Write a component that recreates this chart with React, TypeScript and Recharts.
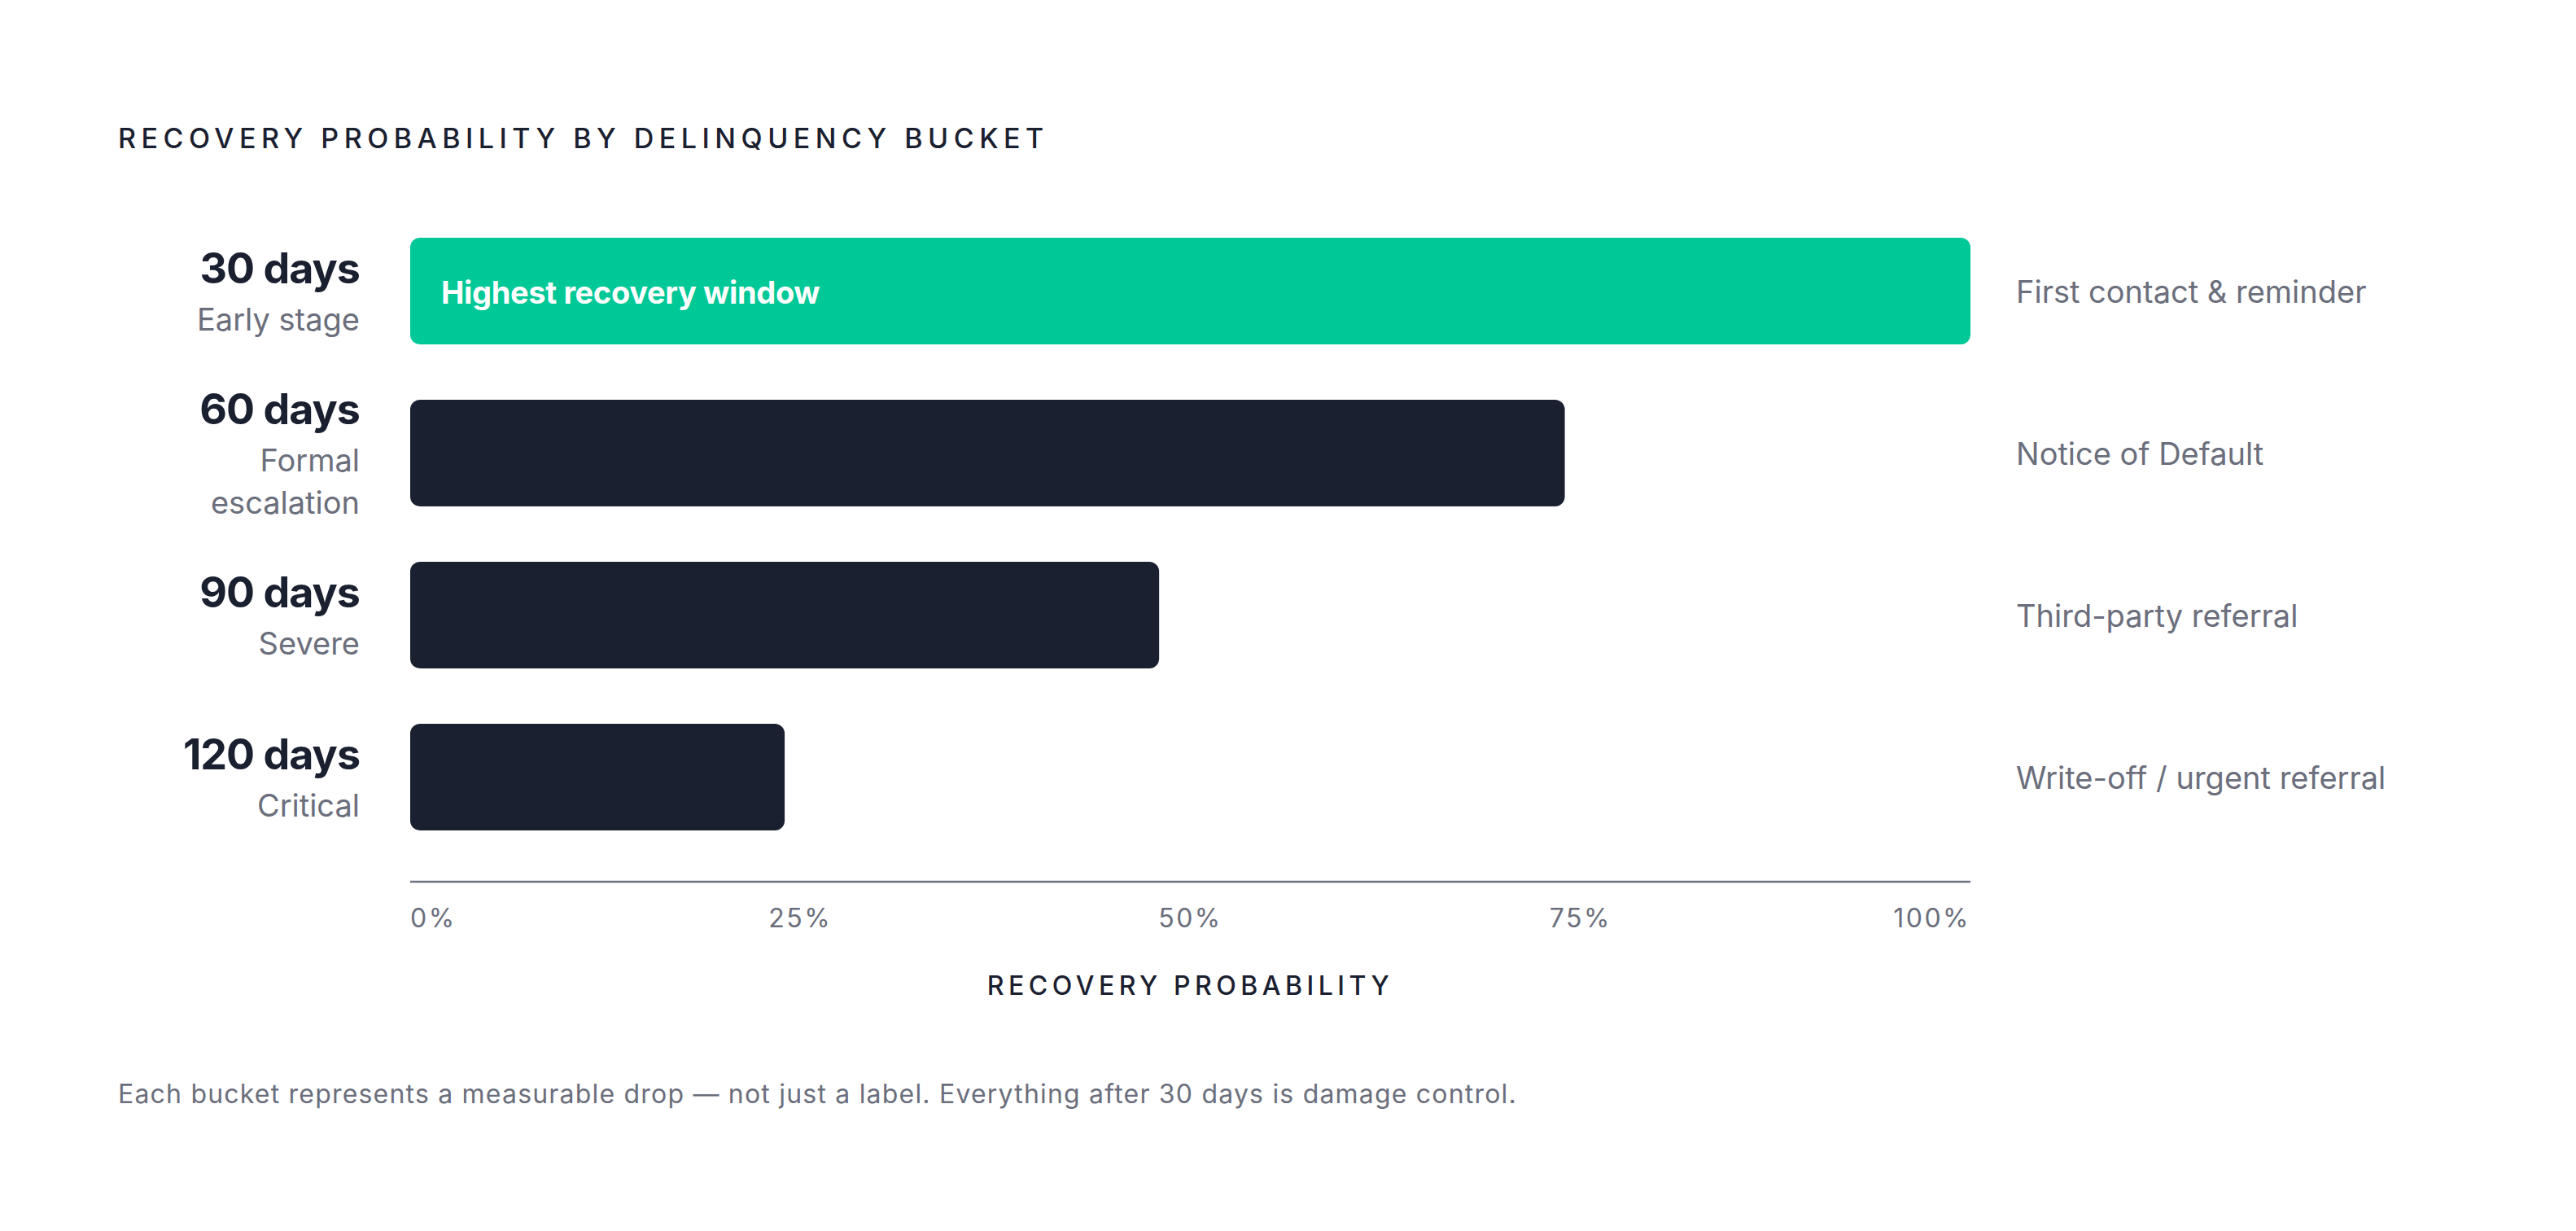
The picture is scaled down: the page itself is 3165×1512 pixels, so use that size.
import { BarChart, Bar, XAxis, YAxis, Cell, LabelList, Label } from "recharts";

const buckets = ["30 days", "60 days", "90 days", "120 days"];
const stages = [["Early stage"], ["Formal", "escalation"], ["Severe"], ["Critical"]];
const recovery = [100, 74, 48, 24];
const actions = [
  "First contact & reminder",
  "Notice of Default",
  "Third-party referral",
  "Write-off / urgent referral",
];
const barNotes = ["Highest recovery window", "", "", ""];
const xTicks = [0, 25, 50, 75, 100];
const highlighted = "30 days";

const data = buckets.map((bucket, i) => ({
  bucket,
  stage: stages[i],
  recovery: recovery[i],
  action: actions[i],
  note: barNotes[i],
}));

const DARK = "#1b2030";
const GREY = "#6b6e7c";
const GREEN = "#00c896";
const FONT = "Inter, 'Noto Sans', sans-serif";

function BucketTick(props: any) {
  const { x, y, payload } = props;
  const row = data.find((d) => d.bucket === payload.value);
  const lines = row ? row.stage : [];
  const top = y - 10 - (lines.length - 1) * 26;
  return (
    <g>
      <text
        x={x - 62}
        y={top}
        textAnchor="end"
        fill={DARK}
        fontSize={52}
        fontWeight={700}
        letterSpacing={-1}
        fontFamily={FONT}
      >
        {payload.value}
      </text>
      {lines.map((line, i) => (
        <text key={line} x={x - 62} y={top + 58 + i * 52} textAnchor="end" fill={GREY} fontSize={38} fontFamily={FONT}>
          {line}
        </text>
      ))}
    </g>
  );
}

function ActionTick(props: any) {
  const { x, y, payload } = props;
  return (
    <text x={x + 56} y={y + 14} textAnchor="start" fill={GREY} fontSize={38} fontFamily={FONT}>
      {payload.value}
    </text>
  );
}

function PercentTick(props: any) {
  const { x, y, payload } = props;
  const v = payload.value;
  const anchor = v === xTicks[0] ? "start" : v === xTicks[xTicks.length - 1] ? "end" : "middle";
  return (
    <text x={x} y={y + 56} textAnchor={anchor} fill={GREY} fontSize={32} letterSpacing={2.5} fontFamily={FONT}>
      {v}%
    </text>
  );
}

function AxisTitle(props: any) {
  const vb = props.viewBox;
  return (
    <text
      x={vb.x + vb.width / 2}
      y={vb.y + 139}
      textAnchor="middle"
      fill={DARK}
      fontSize={32}
      fontWeight={500}
      letterSpacing={5.5}
      fontFamily={FONT}
    >
      RECOVERY PROBABILITY
    </text>
  );
}

function NoteLabel(props: any) {
  const { x, y, height, value } = props;
  if (!value) return null;
  return (
    <text
      x={x + 38}
      y={y + height / 2 + 15}
      fill="#ffffff"
      fontSize={38}
      fontWeight={700}
      letterSpacing={-0.35}
      fontFamily={FONT}
    >
      {value}
    </text>
  );
}

export default function App() {
  return (
    <div style={{ position: "relative", width: 3149, height: 1496, background: "#ffffff", fontFamily: FONT }}>
      <div
        style={{
          position: "absolute",
          left: 137,
          top: 145,
          fontSize: 34,
          lineHeight: "34px",
          fontWeight: 500,
          letterSpacing: 6.5,
          color: DARK,
          whiteSpace: "nowrap",
        }}
      >
        RECOVERY PROBABILITY BY DELINQUENCY BUCKET
      </div>
      <div style={{ position: "absolute", left: 0, top: 0 }}>
        <BarChart
          width={3149}
          height={1260}
          data={data}
          layout="vertical"
          margin={{ top: 250, right: 0, bottom: 0, left: 0 }}
        >
          <XAxis
            type="number"
            domain={[0, 100]}
            ticks={xTicks}
            height={185}
            axisLine={{ stroke: "#6b6f80", strokeWidth: 2.5 }}
            tickLine={false}
            tickSize={0}
            tickMargin={0}
            tick={<PercentTick />}
            interval={0}
          >
            <Label content={<AxisTitle />} />
          </XAxis>
          <YAxis
            yAxisId="left"
            type="category"
            dataKey="bucket"
            width={496}
            axisLine={false}
            tickLine={false}
            tickSize={0}
            tickMargin={0}
            padding={{ top: 0, bottom: 29 }}
            tick={<BucketTick />}
            interval={0}
          />
          <YAxis
            yAxisId="right"
            orientation="right"
            type="category"
            dataKey="action"
            width={736}
            axisLine={false}
            tickLine={false}
            tickSize={0}
            tickMargin={0}
            padding={{ top: 0, bottom: 29 }}
            tick={<ActionTick />}
            interval={0}
          />
          <Bar dataKey="recovery" yAxisId="left" barSize={131} radius={12} isAnimationActive={false}>
            {data.map((d) => (
              <Cell key={d.bucket} fill={d.bucket === highlighted ? GREEN : DARK} />
            ))}
            <LabelList dataKey="note" content={<NoteLabel />} />
          </Bar>
        </BarChart>
      </div>
      <div
        style={{
          position: "absolute",
          left: 137,
          top: 1320,
          fontSize: 32,
          lineHeight: "32px",
          letterSpacing: 1.2,
          color: GREY,
          whiteSpace: "nowrap",
        }}
      >
        Each bucket represents a measurable drop — not just a label. Everything after 30 days is damage control.
      </div>
    </div>
  );
}
